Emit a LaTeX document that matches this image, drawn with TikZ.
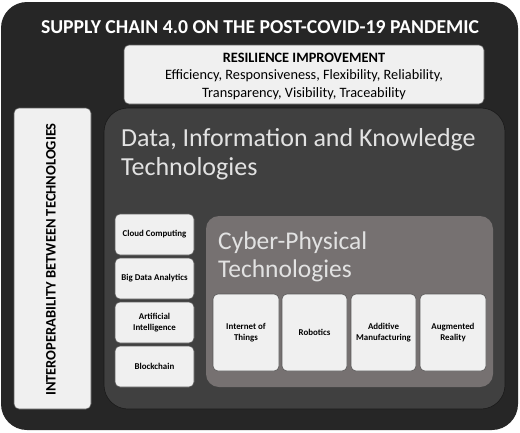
\documentclass[tikz,border=0pt]{standalone}
\usepackage{fontspec}
\setmainfont{Carlito}
\definecolor{outerc}{HTML}{262626}
\definecolor{datac}{HTML}{404040}
\definecolor{cyberc}{HTML}{767171}
\definecolor{lightc}{HTML}{F0F0F0}
\definecolor{edgec}{HTML}{5A5A5A}
\definecolor{titlec}{HTML}{E2E2E2}
\begin{document}
\begin{tikzpicture}[x=1pt,y=-1pt,
  lightbox/.style={fill=lightc,draw=edgec,line width=0.6pt,rounded corners=5pt},
  smalltxt/.style={font=\fontsize{8.9}{10.5}\selectfont\bfseries,align=center,text=black}]
\useasboundingbox (0,0) rectangle (520,432);
\fill[white] (0,0) rectangle (520,432);
\fill[outerc,rounded corners=26pt] (1,2) rectangle (518,430);
\node[text=white,font=\fontsize{19.7}{22}\selectfont\bfseries,anchor=base,inner sep=0pt] (title) at (260,33.3) {SUPPLY CHAIN 4.0 ON THE POST-COVID-19 PANDEMIC};
% resilience
\draw[lightbox] (124,45) rectangle (484,104);
\node[font=\fontsize{14.3}{17.3}\selectfont,align=center,text=black,anchor=base,inner sep=0pt] (res) at (304,97)
  {\textbf{RESILIENCE IMPROVEMENT}\\Efficiency, Responsiveness, Flexibility, Reliability,\\Transparency, Visibility, Traceability};
% interoperability
\draw[lightbox] (14,108) rectangle (91,409);
\node[rotate=90,font=\fontsize{14.5}{16}\selectfont\bfseries,text=black] (inter) at (51,259.5) {INTEROPERABILITY BETWEEN TECHNOLOGIES};
% data box
\draw[fill=datac,draw=black!60!datac,line width=0.6pt,rounded corners=24pt] (104,108) rectangle (505,409);
\node[anchor=base west,text=titlec,font=\fontsize{26}{28.3}\selectfont,align=left,inner sep=0pt] (dtitle) at (121,175)
  {Data, Information and Knowledge\\Technologies};
\draw[lightbox] (115,214) rectangle (194,255);
\node[smalltxt] (cloud) at (154.5,234.5) {Cloud Computing};
\draw[lightbox] (115,258) rectangle (194,299);
\node[smalltxt] (bigdata) at (154.5,278.5) {Big Data Analytics};
\draw[lightbox] (115,302) rectangle (194,343);
\node[smalltxt] (ai) at (154.5,322.5) {Artificial\\Intelligence};
\draw[lightbox] (115,346) rectangle (194,387);
\node[smalltxt] (block) at (154.5,366.5) {Blockchain};
% cyber
\fill[cyberc,rounded corners=13pt] (206,216) rectangle (493,387);
\node[anchor=base west,text=titlec,font=\fontsize{25.5}{27.5}\selectfont,align=left,inner sep=0pt] (ctitle) at (218,277)
  {Cyber-Physical\\Technologies};
\draw[lightbox] (213,294) rectangle (279,371);
\node[smalltxt] (iot) at (246,332.5) {Internet of\\Things};
\draw[lightbox] (282,294) rectangle (347,371);
\node[smalltxt] (rob) at (314.5,332.5) {Robotics};
\draw[lightbox] (351,294) rectangle (416,371);
\node[smalltxt] (am) at (383.5,332.5) {Additive\\Manufacturing};
\draw[lightbox] (420,294) rectangle (486,371);
\node[smalltxt] (ar) at (453,332.5) {Augmented\\Reality};
\end{tikzpicture}
\end{document}
